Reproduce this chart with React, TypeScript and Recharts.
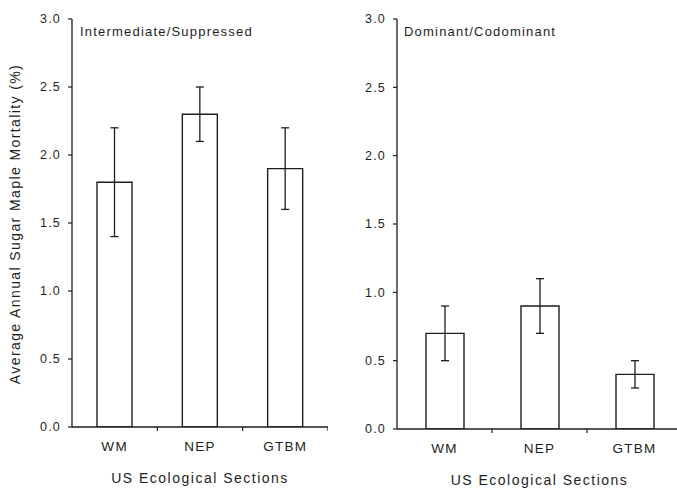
import { BarChart, Bar, XAxis, YAxis, ErrorBar, Label } from 'recharts'

const sections = ['WM', 'NEP', 'GTBM']
const suppressedMean = [1.8, 2.3, 1.9]
const suppressedErr = [0.4, 0.2, 0.3]
const dominantMean = [0.7, 0.9, 0.4]
const dominantErr = [0.2, 0.2, 0.1]
const yTicks = [0, 0.5, 1, 1.5, 2, 2.5, 3]

const INK = '#1e1e1e'
const FONT = '"Liberation Sans", Arial, sans-serif'

const toRows = (mean: number[], err: number[]) =>
  sections.map((s, i) => ({ section: s, mean: mean[i], err: err[i] }))

// category labels plus small ticks on the band boundaries
const makeTick = (band: number) => (props: any) => {
  const { x, y, payload } = props
  const axisY = y - 14
  return (
    <g>
      <line x1={x + band / 2} x2={x + band / 2} y1={axisY} y2={axisY + 4} stroke={INK} strokeWidth={1.2} />
      <text x={x} y={y} dy="0.71em" textAnchor="middle" fill={INK} fontSize={13.5} letterSpacing={1.3} fontFamily={FONT}>
        {payload.value}
      </text>
    </g>
  )
}

interface PanelProps {
  rows: { section: string; mean: number; err: number }[]
  width: number
  marginLeft: number
  yAxisWidth: number
  marginBottom: number
  band: number
  barSize: number
}

function Panel({ rows, width, marginLeft, yAxisWidth, marginBottom, band, barSize }: PanelProps) {
  return (
    <BarChart
      width={width}
      height={491}
      data={rows}
      margin={{ top: 19, right: 0, bottom: marginBottom, left: marginLeft }}
      style={{ fontFamily: FONT }}
    >
      <XAxis
        dataKey="section"
        height={60}
        tickSize={0}
        tickMargin={14}
        tick={makeTick(band)}
        axisLine={{ stroke: INK, strokeWidth: 1.3 }}
        interval={0}
      >
        <Label
          value="US Ecological Sections"
          position="insideBottom"
          offset={4}
          fill={INK}
          fontSize={14}
          letterSpacing={1.5}
          fontFamily={FONT}
        />
      </XAxis>
      <YAxis
        width={yAxisWidth}
        domain={[0, 3]}
        ticks={yTicks}
        tickFormatter={(v: number) => v.toFixed(1)}
        tickSize={4}
        tickMargin={7}
        tick={{ fill: INK, fontSize: 12.5, letterSpacing: 1.2, fontFamily: FONT }}
        axisLine={{ stroke: INK, strokeWidth: 1.3 }}
        tickLine={{ stroke: INK, strokeWidth: 1.2 }}
        allowDataOverflow
      />
      <Bar dataKey="mean" fill="#fff" stroke={INK} strokeWidth={1.4} barSize={barSize} isAnimationActive={false}>
        <ErrorBar dataKey="err" width={4} stroke={INK} strokeWidth={1.3} direction="y" />
      </Bar>
    </BarChart>
  )
}

export default function App() {
  return (
    <div
      style={{
        position: 'fixed',
        top: 0,
        left: 0,
        width: 677,
        height: 491,
        overflow: 'hidden',
        background: '#fff',
        fontFamily: FONT,
        color: INK,
      }}
    >
      <div style={{ position: 'absolute', left: 0, top: 0 }}>
        <Panel
          rows={toRows(suppressedMean, suppressedErr)}
          width={328}
          marginLeft={12}
          yAxisWidth={60}
          marginBottom={4}
          band={256 / 3}
          barSize={35}
        />
      </div>
      <div style={{ position: 'absolute', left: 340, top: 0 }}>
        <Panel
          rows={toRows(dominantMean, dominantErr)}
          width={342}
          marginLeft={0}
          yAxisWidth={57}
          marginBottom={2}
          band={95}
          barSize={38}
        />
      </div>
      <div style={{ position: 'absolute', left: 80, top: 24, fontSize: 13, letterSpacing: 1.2 }}>
        Intermediate/Suppressed
      </div>
      <div style={{ position: 'absolute', left: 404, top: 24, fontSize: 13, letterSpacing: 1.2 }}>
        Dominant/Codominant
      </div>
      <div
        style={{
          position: 'absolute',
          left: 15,
          top: 224,
          transform: 'translate(-50%, -50%) rotate(-90deg)',
          whiteSpace: 'nowrap',
          fontSize: 14,
          letterSpacing: 1.4,
        }}
      >
        Average Annual Sugar Maple Mortality (%)
      </div>
    </div>
  )
}
